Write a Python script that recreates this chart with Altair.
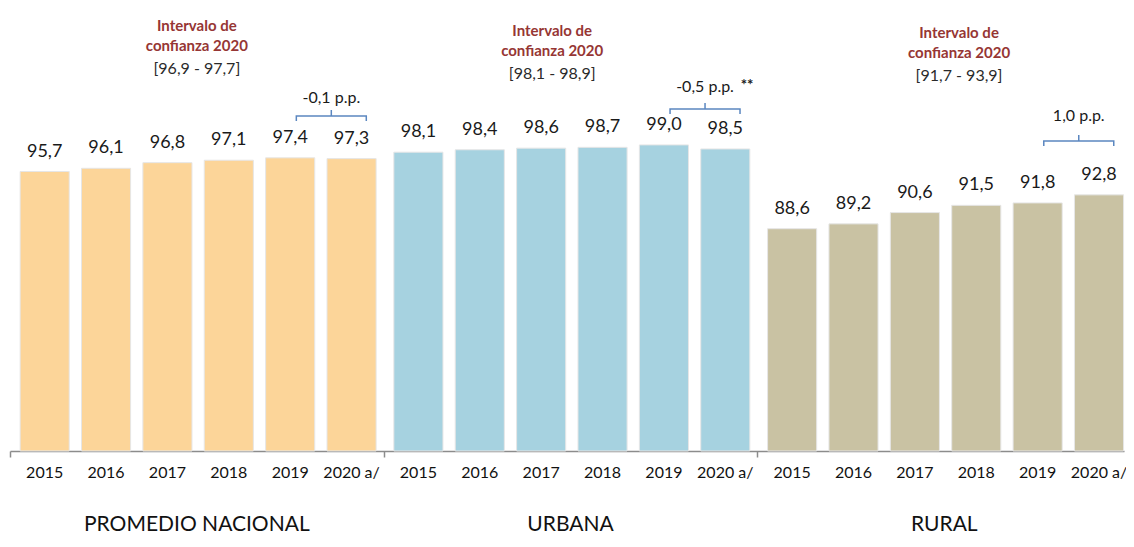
import altair as alt
import pandas as pd

# ---------------- data ----------------
GROUPS = ["PROMEDIO  NACIONAL", "URBANA", "RURAL"]
YEARS = ["2015", "2016", "2017", "2018", "2019", "2020 a/"]
NACIONAL = [95.7, 96.1, 96.8, 97.1, 97.4, 97.3]
URBANA = [98.1, 98.4, 98.6, 98.7, 99.0, 98.5]
RURAL = [88.6, 89.2, 90.6, 91.5, 91.8, 92.8]
INTERVALS = ["[96,9 - 97,7]", "[98,1 - 98,9]", "[91,7 - 93,9]"]
CHANGES = ["-0,1 p.p.", "-0,5 p.p.", "1,0 p.p."]
SIGNIF = ["", "**", ""]
ANN_L1 = "Intervalo de"
ANN_L2 = "confianza 2020"

# ---------------- layout / style ----------------
COLORS = ["#FCD599", "#A6D2E0", "#C9C2A3"]
W, H = 1114, 443
Y_MIN, Y_MAX = 61, 116
X_MAX = 18.15
GROUP_W = 6.089
FIRST = 0.565
HALF = 0.40
FONT = "Lato"
ANN_TOP_PX = [18, 23, 25]
ANN_DX = [0.0, -0.3, 0.24]
BR_Y_PX = [108, 101, 133]
CH_Y_PX = [90, 79, 108]
BR_DX = (0.10, 0.24)


def px_to_y(px):
    return Y_MAX - px * (Y_MAX - Y_MIN) / H


series = [NACIONAL, URBANA, RURAL]
rows = []
for gi, g in enumerate(GROUPS):
    for yi, yr in enumerate(YEARS):
        v = series[gi][yi]
        pos = gi * GROUP_W + FIRST + yi
        rows.append(dict(group=g, gi=gi, year=yr, value=v, pos=pos,
                         x0=pos - HALF, x1=pos + HALF,
                         label=f"{v:.1f}".replace(".", ",")))
bars = pd.DataFrame(rows)

grp = []
for gi, g in enumerate(GROUPS):
    c = gi * GROUP_W + GROUP_W / 2
    top = ANN_TOP_PX[gi]
    c5 = gi * GROUP_W + FIRST + 4
    c6 = gi * GROUP_W + FIRST + 5
    grp.append(dict(group=g, gi=gi, center=c, ax=c + ANN_DX[gi],
                    y1=px_to_y(top), y2=px_to_y(top + 20), y3=px_to_y(top + 43),
                    interval=INTERVALS[gi], change=CHANGES[gi], sig=SIGNIF[gi],
                    chx=(c5 + BR_DX[0] + c6 + BR_DX[1]) / 2,
                    chy=px_to_y(CH_Y_PX[gi]), sigx=(c5 + c6) / 2 + 0.75,
                    l1=ANN_L1, l2=ANN_L2))
groups = pd.DataFrame(grp)

br = []
for gi in range(3):
    c5 = gi * GROUP_W + FIRST + 4
    c6 = gi * GROUP_W + FIRST + 5
    xa, xb = c5 + BR_DX[0], c6 + BR_DX[1]
    xm = (xa + xb) / 2
    by = BR_Y_PX[gi]
    pts = [(xa, by + 5), (xa, by), (xm, by), (xm, by - 6), (xm, by), (xb, by), (xb, by + 5)]
    for k, (px, py) in enumerate(pts):
        br.append(dict(gi=gi, o=k, bx=px, by=px_to_y(py)))
brackets = pd.DataFrame(br)

xs = alt.Scale(domain=[0, X_MAX], nice=False, zero=False)
ys = alt.Scale(domain=[Y_MIN, Y_MAX], nice=False, zero=False)
xaxis = alt.Axis(values=[0, GROUP_W, 2 * GROUP_W], labels=False, ticks=True, tickSize=6,
                 tickColor="#8c8c8c", domainColor="#8c8c8c", domainWidth=1.5,
                 tickWidth=1.5, grid=False, title=None)

base = alt.Chart(bars)

bar_layer = base.mark_bar(stroke="#e6e6e6", strokeWidth=1).encode(
    x=alt.X("x0:Q", scale=xs, axis=xaxis),
    x2="x1:Q",
    y=alt.Y("value:Q", scale=ys, axis=None),
    y2=alt.datum(Y_MIN),
    color=alt.Color("group:N", scale=alt.Scale(domain=GROUPS, range=COLORS), legend=None),
)

val_layer = base.mark_text(dy=-15, baseline="alphabetic", fontSize=18, font=FONT,
                           color="#1a1a1a").encode(
    x=alt.X("pos:Q", scale=xs), y=alt.Y("value:Q", scale=ys), text="label:N")

year_layer = base.mark_text(baseline="middle", fontSize=16, font=FONT,
                            color="#111111").encode(
    x=alt.X("pos:Q", scale=xs), y=alt.value(465), text="year:N")

gbase = alt.Chart(groups)
glabel = gbase.mark_text(baseline="middle", fontSize=21, font=FONT, color="#111111").encode(
    x=alt.X("center:Q", scale=xs), y=alt.value(517), text="group:N")

ann1 = gbase.mark_text(baseline="middle", fontSize=15, font=FONT, fontWeight="bold",
                       color="#963634").encode(
    x=alt.X("ax:Q", scale=xs), y=alt.Y("y1:Q", scale=ys), text="l1:N")
ann2 = gbase.mark_text(baseline="middle", fontSize=15, font=FONT, fontWeight="bold",
                       color="#963634").encode(
    x=alt.X("ax:Q", scale=xs), y=alt.Y("y2:Q", scale=ys), text="l2:N")
ann3 = gbase.mark_text(baseline="middle", fontSize=16, font=FONT,
                       color="#2a2a2a").encode(
    x=alt.X("ax:Q", scale=xs), y=alt.Y("y3:Q", scale=ys), text="interval:N")

chg = gbase.mark_text(baseline="middle", fontSize=16, font=FONT, color="#1a1a1a").encode(
    x=alt.X("chx:Q", scale=xs), y=alt.Y("chy:Q", scale=ys), text="change:N")
sig = gbase.mark_text(baseline="middle", align="left", fontSize=15, font=FONT,
                      fontWeight="bold", dy=-2, color="#1a1a1a").encode(
    x=alt.X("sigx:Q", scale=xs), y=alt.Y("chy:Q", scale=ys), text="sig:N")

br_layer = alt.Chart(brackets).mark_line(color="#5b87c0", strokeWidth=1.5).encode(
    x=alt.X("bx:Q", scale=xs), y=alt.Y("by:Q", scale=ys),
    detail="gi:N", order="o:Q")

chart = alt.layer(
    bar_layer, val_layer, year_layer, glabel, ann1, ann2, ann3, chg, sig, br_layer
).properties(
    width=W, height=H,
    padding={"left": 2, "right": 2, "top": 0, "bottom": 86},
    autosize=alt.AutoSizeParams(type="none"),
).configure_view(strokeWidth=0, stroke="transparent")

chart.save("out.html", embed_options={"renderer": "svg", "actions": False})
